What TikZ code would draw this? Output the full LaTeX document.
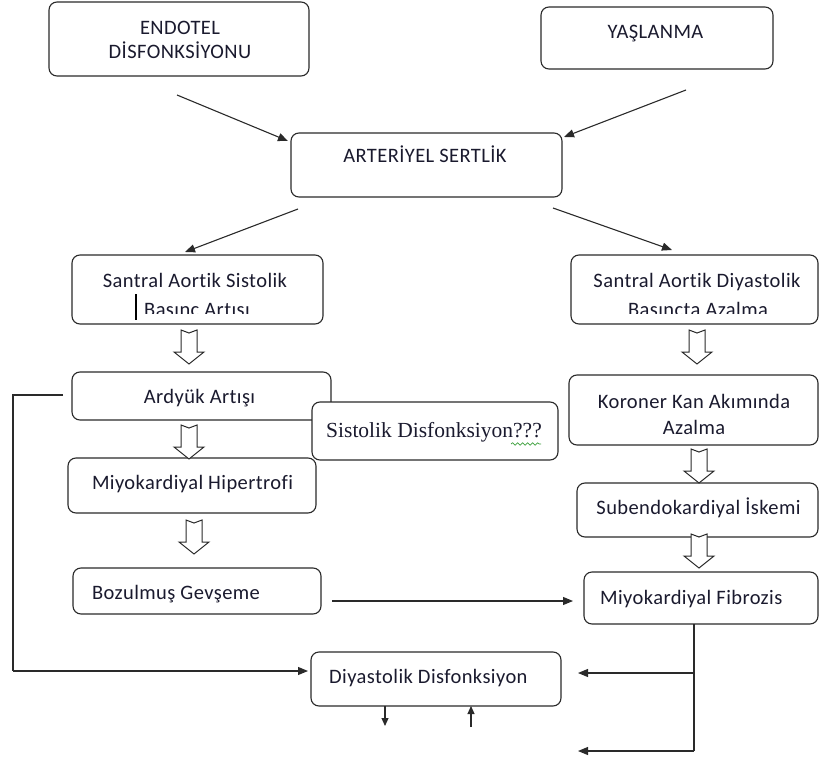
\documentclass[tikz,border=0pt]{standalone}
\usepackage{fontspec}
\setmainfont[Ligatures=NoCommon, LetterSpace=2]{Carlito}
\newfontfamily\serifone[Ligatures=NoCommon]{Liberation Serif}
\usetikzlibrary{arrows.meta,decorations.pathmorphing}
\definecolor{lineclr}{HTML}{2A2A2A}
\definecolor{txtclr}{HTML}{1A1A2E}
\definecolor{wavy}{HTML}{3CA03C}
\tikzset{
  box/.style={draw=lineclr, rounded corners=8pt, line width=1.1pt, inner sep=0pt, outer sep=0pt, fill=white},
  lbl/.style={inner sep=0pt, anchor=base, text=txtclr, font=\fontsize{20.5}{24}\selectfont},
  lbll/.style={lbl, anchor=base west},
  conn/.style={draw=lineclr, line width=1.1pt, -{Triangle[length=10pt,width=8pt]}},
  plain/.style={draw=lineclr, line width=1.1pt},
  hollow/.pic={\draw[lineclr, line width=1pt, fill=white, line join=miter]
     (-8,0) -- (0,3) -- (8,0) -- (8,22) -- (15,22) -- (0,34) -- (-15,22) -- (-8,22) -- cycle;}
}
\begin{document}
\begin{tikzpicture}[x=1pt,y=-1pt]
\useasboundingbox (0,0) rectangle (819,762);
% boxes
\node[box, minimum width=260pt, minimum height=74pt] (endo) at (179,39) {};
\node[box, minimum width=232pt, minimum height=62pt] (yas) at (657,38) {};
\node[box, minimum width=271pt, minimum height=64pt] (art) at (426.5,165) {};
\node[box, minimum width=251pt, minimum height=69pt] (sas) at (197.5,289.5) {};
\node[box, minimum width=247pt, minimum height=69pt] (sad) at (694.5,289.5) {};
\node[box, minimum width=259pt, minimum height=48pt] (ard) at (201.5,396) {};
\node[box, minimum width=249pt, minimum height=70pt] (kor) at (693.5,410) {};
\node[box, minimum width=248pt, minimum height=55pt] (hip) at (192,485.5) {};
\node[box, minimum width=241pt, minimum height=54pt] (sub) at (697.5,510) {};
\node[box, minimum width=248pt, minimum height=46pt] (boz) at (197,591) {};
\node[box, minimum width=234pt, minimum height=52pt] (fib) at (701,598) {};
\node[box, minimum width=250pt, minimum height=54pt] (ddf) at (436,679) {};
\node[box, minimum width=246pt, minimum height=58pt] (sdf) at (435,431) {};

% texts
\node[lbl] (t1a) at (180,35) {ENDOTEL};
\node[lbl] (t1b) at (180,59) {DİSFONKSİYONU};
\node[lbl] (t2) at (655.5,39) {YAŞLANMA};
\node[lbl] (t3) at (425,163) {ARTERİYEL SERTLİK};
\node[lbl] (t4a) at (195,287) {Santral Aortik Sistolik};
\begin{scope}
\clip (72,255) rectangle (323,313);
\node[lbl] (t4b) at (197,316) {Basınç Artışı};
\end{scope}
\node[lbl] (t5a) at (697,287) {Santral Aortik Diyastolik};
\begin{scope}
\clip (571,255) rectangle (818,313);
\node[lbl] (t5b) at (698,316) {Basınçta Azalma};
\end{scope}
\node[lbl] (t6) at (199.5,403) {Ardyük Artışı};
\node[lbl, font=\serifone\fontsize{21.5}{24}\selectfont] (t7) at (434,437) {Sistolik Disfonksiyon???};
\node[lbl] (t8a) at (694,408) {Koroner Kan Akımında};
\node[lbl] (t8b) at (694,434) {Azalma};
\node[lbl] (t9) at (192.5,489) {Miyokardiyal Hipertrofi};
\node[lbl] (t10) at (698.5,514) {Subendokardiyal İskemi};
\node[lbll] (t11) at (92,599) {Bozulmuş Gevşeme};
\node[lbll] (t12) at (600,604) {Miyokardiyal Fibrozis};
\node[lbll] (t13) at (329,683) {Diyastolik Disfonksiyon};

% cursor bar and wavy underline
\draw[black, line width=2.2pt] (136,294) -- (136,320);
\draw[wavy, line width=0.7pt, decorate, decoration={snake, amplitude=1.2pt, segment length=5pt}] (511,444) -- (541,444);

% diagonal arrows
\coordinate (a1s) at (177,95);  \coordinate (a1e) at (288,141);
\coordinate (a2s) at (686,90);  \coordinate (a2e) at (564,137);
\coordinate (a3s) at (298,209); \coordinate (a3e) at (185,252);
\coordinate (a4s) at (553,208); \coordinate (a4e) at (672,250);
\draw[conn] (a1s) -- (a1e);
\draw[conn] (a2s) -- (a2e);
\draw[conn] (a3s) -- (a3e);
\draw[conn] (a4s) -- (a4e);

% hollow arrows
\pic at (189,330) {hollow};
\pic at (189,425) {hollow};
\pic at (194,520) {hollow};
\pic at (697,330) {hollow};
\pic at (699,449) {hollow};
\pic at (699,534) {hollow};

% feedback line from Ardyuk
\coordinate (f1) at (63,395);
\coordinate (f2) at (13,395);
\coordinate (f3) at (13,671);
\coordinate (f4) at (308,671);
\draw[plain] (f1) -- (f2) -- (f3);
\draw[conn] (f3) -- (f4);

% Bozulmus -> Fibrozis
\coordinate (b1) at (332,601);
\coordinate (b2) at (573,601);
\draw[conn] (b1) -- (b2);

% Fibrozis down with branches
\coordinate (v1) at (694,624);
\coordinate (v2) at (694,673);
\coordinate (v3) at (694,751);
\coordinate (h1) at (578,673);
\coordinate (h2) at (578,751);
\draw[plain] (fib.south -| v1) -- (v3);
\draw[conn] (v2) -- (h1);
\draw[conn] (v3) -- (h2);

% small arrows below Diyastolik Disfonksiyon
\coordinate (d1) at (385,706); \coordinate (d2) at (385,726);
\coordinate (u1) at (471,727); \coordinate (u2) at (471,706);
\draw[conn, -{Triangle[length=8pt,width=7pt]}] (d1) -- (d2);
\draw[conn, -{Triangle[length=8pt,width=7pt]}] (u1) -- (u2);
\end{tikzpicture}
\end{document}
